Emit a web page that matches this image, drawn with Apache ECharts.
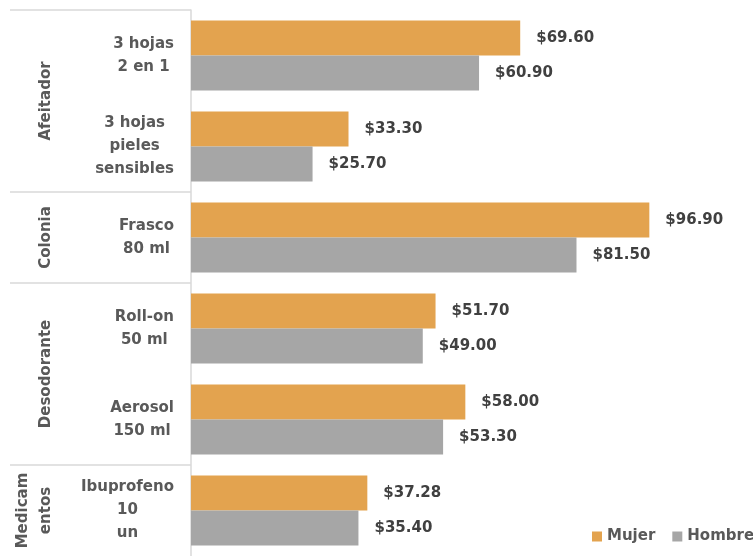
<!DOCTYPE html>
<html><head><meta charset="utf-8">
<script src="https://cdn.jsdelivr.net/npm/echarts@6/dist/echarts.min.js"></script>
<style>html,body{margin:0;padding:0;background:#fff}#c{width:753px;height:556px}</style>
</head><body><div id="c"></div>
<script>
const categories = ['3 hojas\n2 en 1', '3 hojas\npieles\nsensibles', 'Frasco\n80 ml', 'Roll-on\n50 ml', 'Aerosol\n150 ml', 'Ibuprofeno\n10\nun'];
const mujer = [69.6, 33.3, 96.9, 51.7, 58.0, 37.28];
const hombre = [60.9, 25.7, 81.5, 49.0, 53.3, 35.4];
const groupNames = ['Afeitador', 'Colonia', 'Desodorante', 'Medicam\nentos'];
const groupStart = [0, 2, 3, 5];
const groupSize = [2, 1, 2, 1];

const FONT = '"DejaVu Sans"';
const FS = 15;
const TXT = '#595959';
const chart = echarts.init(document.getElementById('c'));
const valLabel = {
  show: true, position: 'right', distance: 16,
  formatter: p => '$' + p.value.toFixed(2),
  color: '#404040', fontFamily: FONT, fontWeight: 'bold', fontSize: FS
};
chart.setOption({
  animation: false,
  textStyle: { fontFamily: FONT },
  grid: { left: 191, top: 10, height: 549, width: 473, containLabel: false },
  legend: {
    data: ['Mujer', 'Hombre'], left: 587, top: 524, width: 300, orient: 'horizontal',
    itemWidth: 10, itemHeight: 10, itemGap: 17,
    icon: 'rect', textStyle: { color: TXT, fontFamily: FONT, fontWeight: 'bold', fontSize: FS }
  },
  xAxis: { type: 'value', min: 0, max: 100, show: false, splitLine: { show: false } },
  yAxis: {
    type: 'category', data: categories, inverse: true,
    axisLine: { show: true, lineStyle: { color: '#D9D9D9', width: 1.5 } },
    axisTick: { show: false },
    axisLabel: {
      margin: 17, align: 'right', color: TXT, fontFamily: FONT, fontWeight: 'bold', fontSize: FS, lineHeight: 23,
      formatter: v => v.split('\n').map(s => '{c|' + s + '}').join('\n'),
      rich: { c: { align: 'center', color: TXT, fontFamily: FONT, fontWeight: 'bold', fontSize: FS, lineHeight: 23 } }
    }
  },
  series: [
    { name: 'Mujer', type: 'bar', data: mujer, barGap: '0%', barCategoryGap: '23%', itemStyle: { color: '#E3A34F' }, label: valLabel },
    { name: 'Hombre', type: 'bar', data: hombre, itemStyle: { color: '#A6A6A6' }, label: valLabel }
  ]
});

const y0 = chart.convertToPixel({ yAxisIndex: 0 }, categories[0]);
const y1 = chart.convertToPixel({ yAxisIndex: 0 }, categories[1]);
const band = y1 - y0;
const axisX = chart.convertToPixel({ xAxisIndex: 0 }, 0);
const graphics = [];
groupNames.forEach((name, i) => {
  const top = chart.convertToPixel({ yAxisIndex: 0 }, categories[groupStart[i]]) - band / 2;
  const mid = top + band * groupSize[i] / 2;
  graphics.push({ type: 'line', shape: { x1: 10, y1: top, x2: axisX, y2: top }, style: { stroke: '#D9D9D9', lineWidth: 1.5 }, silent: true });
  graphics.push({
    type: 'text', x: 58, y: mid, rotation: Math.PI / 2,
    style: { text: name, align: 'center', verticalAlign: 'bottom', fill: TXT, font: 'bold ' + FS + 'px ' + FONT, lineHeight: 23 },
    silent: true
  });
});
chart.setOption({ graphic: graphics });
</script></body></html>
